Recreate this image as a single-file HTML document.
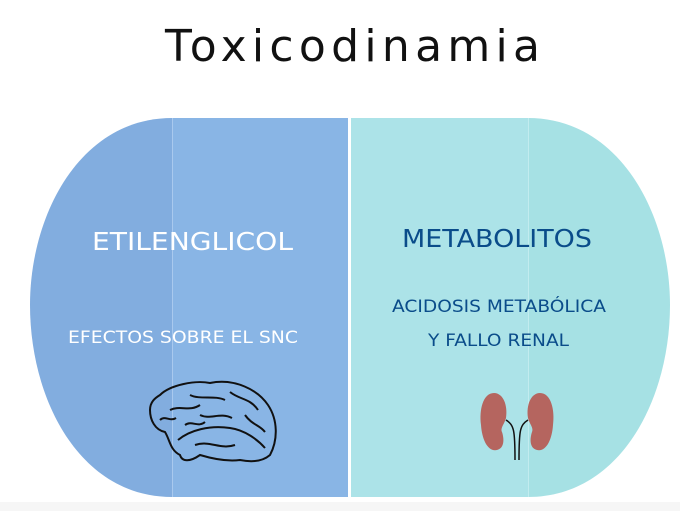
<!DOCTYPE html>
<html><head><meta charset="utf-8"><style>
html,body{margin:0;padding:0;background:#fff;width:680px;height:511px;overflow:hidden}
svg{display:block}
text{font-family:"DejaVu Sans","Liberation Sans",sans-serif}
</style></head><body>
<svg width="680" height="511" viewBox="0 0 680 511">
<rect x="0" y="502" width="680" height="9" fill="#f6f6f6"/>
<text x="165" y="61" font-size="44" fill="#111" textLength="375" lengthAdjust="spacing">Toxicodinamia</text>
<path d="M172,118 C80,118 30,215 30,305 C30,400 80,497 172,497 Z" fill="#82ADDF"/>
<rect x="172" y="118" width="176" height="379" fill="#89B5E5"/>
<line x1="172.5" y1="118" x2="172.5" y2="497" stroke="#a9c9ee" stroke-width="1"/>
<rect x="351" y="118" width="177" height="379" fill="#ACE3E8"/>
<path d="M528,118 C620,118 670,215 670,305 C670,400 620,497 528,497 Z" fill="#A6E1E4"/>
<line x1="528.5" y1="118" x2="528.5" y2="497" stroke="#c2ecef" stroke-width="1"/>
<text x="92" y="250" font-size="25" fill="#fff" textLength="201" lengthAdjust="spacingAndGlyphs">ETILENGLICOL</text>
<text x="68" y="343" font-size="17" fill="#fff" textLength="230" lengthAdjust="spacingAndGlyphs">EFECTOS SOBRE EL SNC</text>
<text x="402" y="247" font-size="25" fill="#0a4c8a" textLength="190" lengthAdjust="spacingAndGlyphs">METABOLITOS</text>
<text x="392" y="312" font-size="17" fill="#0a4c8a" textLength="214" lengthAdjust="spacingAndGlyphs">ACIDOSIS METABÓLICA</text>
<text x="428" y="346" font-size="17" fill="#0a4c8a" textLength="141" lengthAdjust="spacingAndGlyphs">Y FALLO RENAL</text>
<g fill="none" stroke="#111" stroke-width="2">
<path d="M160,395 C170,385 195,380 210,383 C235,378 258,390 268,405 C278,420 278,440 270,455 C262,462 250,462 240,460 C225,462 210,458 200,455 C190,462 182,462 180,455 C170,450 170,440 165,432 C155,430 150,420 150,410 C150,402 155,398 160,395 Z"/>
<path d="M178,440 C190,430 210,425 230,428 C245,430 258,440 265,448"/>
<path d="M170,410 C180,405 190,412 200,405 M190,395 C200,400 215,395 225,400 M230,392 C240,400 250,398 258,410 M200,415 C210,420 220,412 232,418 M245,415 C252,425 260,425 265,432 M185,425 C192,420 198,428 205,422 M195,445 C210,440 220,450 235,445 M160,420 C165,415 170,422 176,418"/>
</g>
<path d="M494,393 C483,393 479,410 481,425 C482,440 488,452 497,450 C505,448 504,438 502,432 C500,428 505,423 506,418 C508,405 503,393 494,393 Z" fill="#b5655f"/>
<path d="M540,393 C551,393 555,410 553,425 C552,440 546,452 537,450 C529,448 530,438 532,432 C534,428 529,423 528,418 C526,405 531,393 540,393 Z" fill="#b5655f"/>
<path d="M506,420 C514,425 515,430 515,460 M528,420 C520,425 519,430 519,460" stroke="#111" stroke-width="1.5" fill="none"/>
</svg>
</body></html>
